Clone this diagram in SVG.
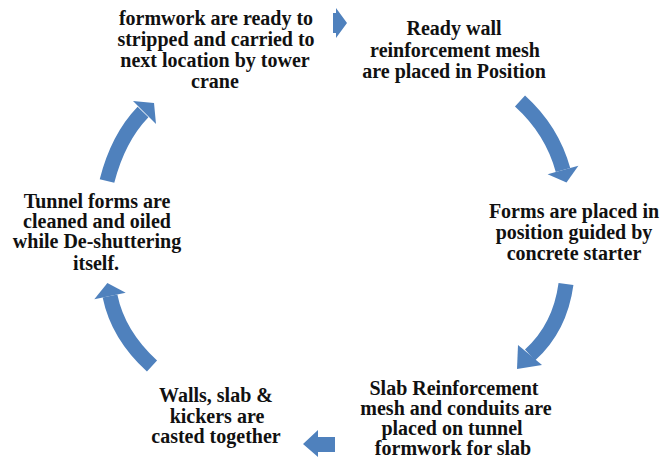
<svg xmlns="http://www.w3.org/2000/svg" width="667" height="461" viewBox="0 0 667 461">
<rect width="667" height="461" fill="#fff"/>
<g font-family="Liberation Serif" font-size="20" font-weight="bold" fill="#111" text-anchor="middle">
<g id="node1">
<text x="216" y="25">formwork are ready to</text>
<text x="216" y="46">stripped and carried to</text>
<text x="215" y="67">next location by tower</text>
<text x="215" y="88">crane</text>
</g>
<g id="node2">
<text x="454" y="35">Ready wall</text>
<text x="455" y="57">reinforcement mesh</text>
<text x="454" y="78">are placed in Position</text>
</g>
<g id="node3">
<text x="574" y="218">Forms are placed in</text>
<text x="574" y="239">position guided by</text>
<text x="574" y="260">concrete starter</text>
</g>
<g id="node4">
<text x="454" y="395">Slab Reinforcement</text>
<text x="456" y="415">mesh and conduits are</text>
<text x="452" y="435">placed on tunnel</text>
<text x="453" y="455">formwork for slab</text>
</g>
<g id="node5">
<text x="216" y="402">Walls, slab &amp;</text>
<text x="217" y="423">kickers are</text>
<text x="216" y="443">casted together</text>
</g>
<g id="node6">
<text x="97" y="208">Tunnel forms are</text>
<text x="97" y="228">cleaned and oiled</text>
<text x="97" y="248">while De-shuttering</text>
<text x="96" y="270">itself.</text>
</g>
</g>
<g id="connectors" fill="#4F81BD">
<polygon points="333,13 336,13 336,8 347,23 336,38 336,33 333,33"/>
<g fill="none" stroke="#4F81BD" stroke-width="15">
<path d="M520,101 Q552,130 563,170"/>
<path d="M566,284 Q560,328 530,355"/>
<path d="M152,366 Q118,335 110,296"/>
<path d="M107,181 Q118,138 143,112"/>
</g>
<polygon points="578.4,165.8 566.5,182.5 547.6,174.2"/>
<polygon points="542,365 517,369 518,345"/>
<polygon points="335,437 318,437 318,430 303,444 318,457 318,452 335,452"/>
<polygon points="125.7,292.8 107.4,283 94.3,299.2"/>
<polygon points="133,101 154,103 156,124"/>
</g>
</svg>
